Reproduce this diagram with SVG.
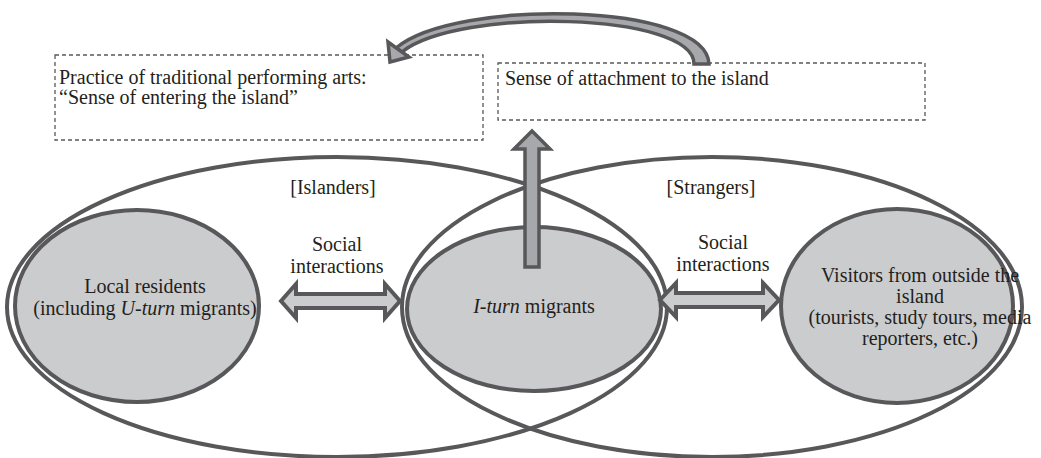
<svg xmlns="http://www.w3.org/2000/svg" width="1041" height="458" viewBox="0 0 1041 458" font-family="'Liberation Serif', 'DejaVu Serif', serif">
<defs>
<style>
text{font-family:'Liberation Serif','DejaVu Serif',serif;font-size:20px;fill:#231f20}
.c{text-anchor:middle}
.big{fill:none;stroke:#58585a;stroke-width:4}
.node{fill:#cbcccd;stroke:#58585a;stroke-width:4}
.box{fill:#fff;stroke:#58585a;stroke-width:1.3;stroke-dasharray:4 3}
.arr{fill:#cbcccd;stroke:#58585a;stroke-width:4;stroke-linejoin:miter}
.arr2{fill:#a7a8ab;stroke:#58585a;stroke-width:3.5;stroke-linejoin:miter}
</style>
</defs>
<rect width="1041" height="458" fill="#fff"/>
<g id="islanders">
<ellipse class="big" cx="337" cy="307" rx="330" ry="150"/>
<text class="c" x="333" y="194">[Islanders]</text>
</g>
<g id="strangers">
<ellipse class="big" cx="712" cy="307" rx="310" ry="150"/>
<text class="c" x="711" y="194">[Strangers]</text>
</g>
<g id="box-practice">
<rect class="box" x="55" y="55" width="428" height="85"/>
<text x="59" y="84">Practice of traditional performing arts:</text>
<text x="59" y="104">“Sense of entering the island”</text>
</g>
<g id="box-attachment">
<rect class="box" x="498" y="63" width="427" height="57"/>
<text x="505" y="85">Sense of attachment to the island</text>
</g>
<g id="local">
<ellipse class="node" cx="137" cy="306" rx="122" ry="96"/>
<text class="c" x="145" y="293">Local residents</text>
<text class="c" x="145" y="315">(including <tspan font-style="italic">U-turn</tspan> migrants)</text>
</g>
<g id="iturn">
<ellipse class="node" cx="534" cy="309" rx="127" ry="82"/>
<text class="c" x="534" y="313"><tspan font-style="italic">I-turn</tspan> migrants</text>
</g>
<g id="visitors">
<ellipse class="node" cx="897" cy="306" rx="116" ry="97"/>
<text class="c" x="920" y="282">Visitors from outside the</text>
<text class="c" x="920" y="303">island</text>
<text class="c" x="920" y="324">(tourists, study tours, media</text>
<text class="c" x="920" y="345">reporters, etc.)</text>
</g>
<g id="labels">
<text class="c" x="337" y="251">Social</text>
<text class="c" x="337" y="273">interactions</text>
<text class="c" x="723" y="249">Social</text>
<text class="c" x="723" y="271">interactions</text>
</g>
<g id="connectors">
<path class="arr" d="M281 301 L296 284 L296 294 L385 294 L385 284 L400 301 L385 318 L385 308 L296 308 L296 318 Z"/>
<path class="arr" d="M660 300 L676 283 L676 293 L763 293 L763 283 L779 300 L763 317 L763 307 L676 307 L676 317 Z"/>
<path class="arr2" d="M525 267 L525 149 L514 149 L532 131 L550 149 L539 149 L539 267 Z"/>
<path class="arr2" d="M709 64 C707 2 455 -2 396 48 L402 52 C458 7 694 12 694 64 Z"/>
<path class="arr2" d="M390 62 L388 42 L409 57 Z"/>
</g>
</svg>
